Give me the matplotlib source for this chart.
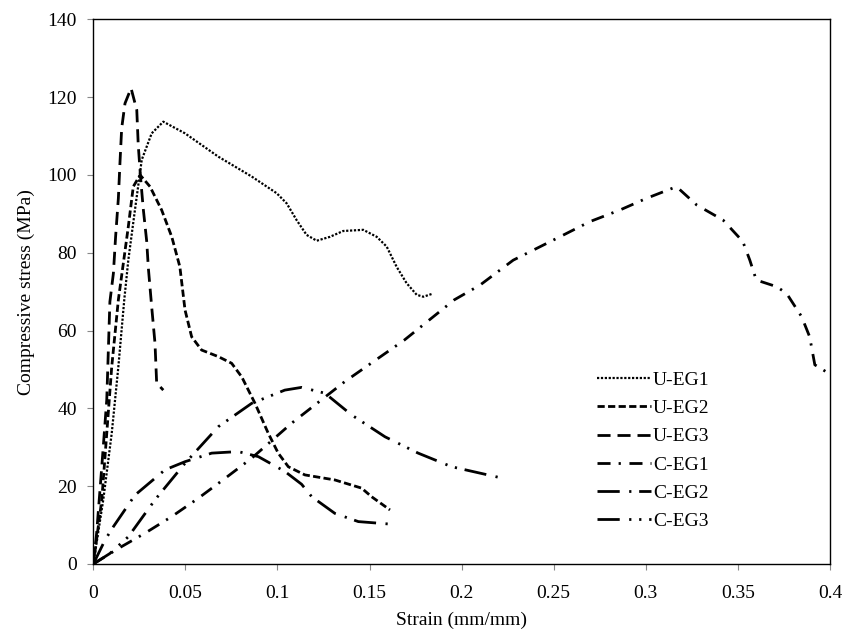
import matplotlib
matplotlib.use("Agg")
import matplotlib.pyplot as plt

plt.rcParams['font.family'] = ['Liberation Serif', 'DejaVu Serif']

# values
u_eg1_x = [0, 0.0054, 0.01, 0.0136, 0.0168, 0.019, 0.0226, 0.0263, 0.0317, 0.038, 0.0498,
           0.0679, 0.086, 0.0996, 0.105, 0.1104, 0.1158, 0.1213, 0.1285, 0.1357, 0.1466,
           0.1539, 0.1593, 0.1647, 0.1701, 0.1756, 0.1792, 0.1837]
u_eg1_y = [0, 16.5, 33.6, 50.7, 67.9, 78.1, 91, 103.9, 110.7, 113.7, 110.7,
           104.7, 99.6, 95.3, 92.7, 88.4, 84.6, 83.1, 84.1, 85.6, 85.9,
           84.1, 81.6, 76.4, 72.2, 69.2, 68.7, 69.4]

u_eg2_x = [0, 0.0046, 0.0073, 0.01, 0.0136, 0.019, 0.0217, 0.0254, 0.0308, 0.0371, 0.0426,
           0.047, 0.0498, 0.0534, 0.0588, 0.0679, 0.0751, 0.0806, 0.0878, 0.095, 0.1004,
           0.1059, 0.1149, 0.1312, 0.1457, 0.1511, 0.1611]
u_eg2_y = [0, 16.5, 33.6, 50.7, 67.9, 86.7, 97, 100, 97, 91, 84.1,
           76.4, 65.3, 58.4, 55, 53.3, 51.6, 48.1, 41.3, 33.6, 28.5,
           25, 22.9, 21.6, 19.5, 17.3, 13.9]

u_eg3_x = [0, 0.0018, 0.0046, 0.0073, 0.009, 0.0109, 0.0121, 0.0136, 0.0145, 0.0154, 0.0172,
           0.0205, 0.0236, 0.0244, 0.0257, 0.0271, 0.029, 0.0299, 0.0317, 0.0335, 0.0344, 0.038]
u_eg3_y = [0, 7.9, 25, 42.2, 67.4, 74.7, 84.1, 94, 103.4, 112, 118.4,
           122.3, 116.7, 107.7, 99.1, 91.4, 82.9, 76, 66.1, 56.7, 46.5, 44.7]

c_eg1_x = [0, 0.0136, 0.028, 0.0426, 0.057, 0.0715, 0.086, 0.1077, 0.1366, 0.169, 0.196,
           0.21, 0.228, 0.2533, 0.2696, 0.286, 0.3004, 0.3167, 0.3276, 0.342, 0.3527,
           0.3565, 0.36, 0.371, 0.3764, 0.3846, 0.389, 0.3918, 0.398, 0.4]
c_eg1_y = [0, 4, 7.9, 12.2, 16.9, 22, 27.2, 36.2, 46.9, 57.6, 67.9,
           71.7, 78.1, 84.1, 88, 91, 94, 97, 92.3, 88.4, 82.9,
           78.1, 73, 71.3, 69.6, 63.6, 58.4, 51.2, 49.4, 49.2]

c_eg2_x = [0, 0.0064, 0.0109, 0.0226, 0.0389, 0.0498, 0.0643, 0.0787, 0.0896, 0.104,
           0.1131, 0.1186, 0.1312, 0.1439, 0.16]
c_eg2_y = [0, 6.2, 9.6, 17.7, 24.2, 26.3, 28.5, 28.9, 27.6, 23.8,
           20.5, 17.3, 13, 10.9, 10.3]

c_eg3_x = [0, 0.009, 0.019, 0.0335, 0.0498, 0.0679, 0.086, 0.104, 0.1131, 0.1258,
           0.1403, 0.1584, 0.1764, 0.1946, 0.2199]
c_eg3_y = [0, 2.7, 7, 16.5, 25.9, 35.3, 41.3, 44.7, 45.4, 43.9,
           38.3, 32.7, 28.5, 25, 22.3]

fig = plt.figure(figsize=(8.46, 6.37), dpi=100)
ax = fig.add_axes([0.1103, 0.1146, 0.8707, 0.855])

lw = 2.0
ax.plot(u_eg1_x, u_eg1_y, color='black', lw=1.6, linestyle=(0, (1, 0.75)), label='U-EG1')
ax.plot(u_eg2_x, u_eg2_y, color='black', lw=lw, linestyle=(0, (2.6, 1.2)), label='U-EG2')
ax.plot(u_eg3_x, u_eg3_y, color='black', lw=lw, linestyle=(0, (4.7, 2.5)), label='U-EG3')
ax.plot(c_eg1_x, c_eg1_y, color='black', lw=lw, linestyle=(0, (4.7, 2.9, 0.8, 3.1)), label='C-EG1')
ax.plot(c_eg2_x, c_eg2_y, color='black', lw=lw, linestyle=(0, (8.0, 3.4, 0.8, 2.8)), label='C-EG2')
ax.plot(c_eg3_x, c_eg3_y, color='black', lw=lw,
        linestyle=(0, (8.0, 3.4, 0.8, 2.8, 0.8, 2.8)), label='C-EG3')

ax.set_xlim(0, 0.4)
ax.set_ylim(0, 140)
ax.set_xticks([0, 0.05, 0.1, 0.15, 0.2, 0.25, 0.3, 0.35, 0.4])
ax.set_xticklabels(['0', '0.05', '0.1', '0.15', '0.2', '0.25', '0.3', '0.35', '0.4'])
ax.set_yticks(range(0, 141, 20))
ax.tick_params(direction='out', length=4, width=0.8, color='#888888', labelsize=14, pad=8)
ax.tick_params(axis='x', pad=11)
for s in ax.spines.values():
    s.set_linewidth(1.0)
    s.set_color('black')

ax.set_xlabel('Strain (mm/mm)', fontsize=14, labelpad=7)
ax.set_ylabel('Compressive stress (MPa)', fontsize=14, labelpad=9)

ax.legend(loc='upper left', bbox_to_anchor=(0.670, 0.372), frameon=False, fontsize=14,
          handlelength=2.8, handletextpad=0.1, labelspacing=0.55, borderpad=0)

fig.savefig('out.png', dpi=100)
